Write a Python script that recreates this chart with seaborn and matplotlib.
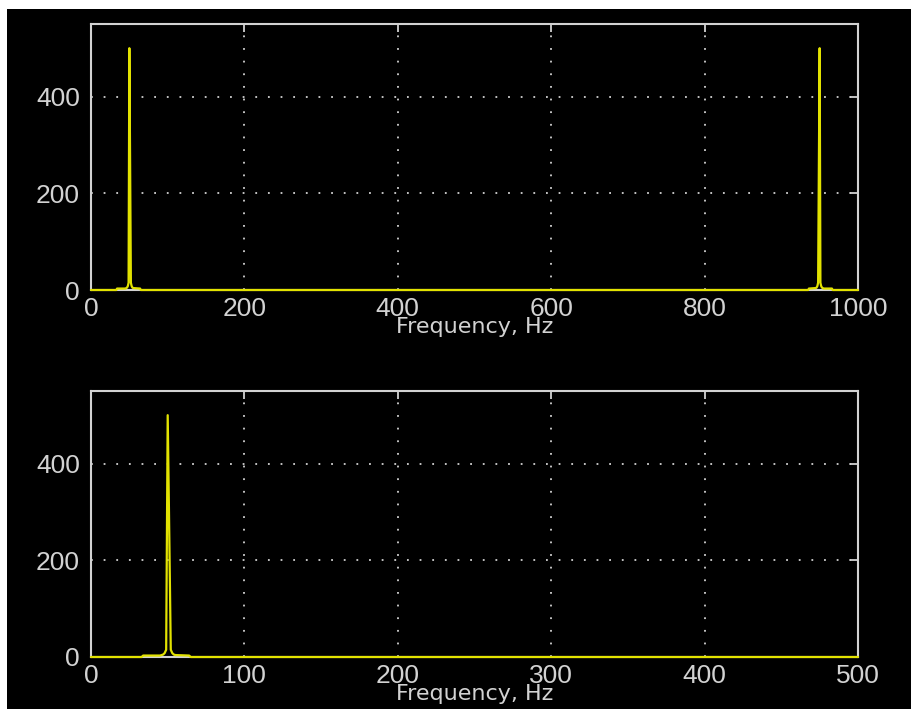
import matplotlib
matplotlib.use("Agg")
import matplotlib.pyplot as plt
from matplotlib.patches import Rectangle
import seaborn as sns
import pandas as pd

# Two-sided magnitude spectrum (0..1000 Hz)
freq_full = [0, 33, 34, 45, 46, 47, 48, 49, 50, 51, 52, 53, 54, 55, 64, 65,
             935, 936, 945, 946, 947, 948, 949, 950, 951, 952, 953, 954, 955, 966, 967, 1000]
mag_full = [0, 0, 3, 3, 4, 5, 8, 15, 500, 260, 15, 8, 5, 4, 3, 0,
            0, 3, 4, 5, 8, 15, 260, 500, 15, 8, 5, 4, 3, 3, 0, 0]

# One-sided magnitude spectrum (0..500 Hz)
freq_half = [0, 33, 34, 45, 46, 47, 48, 49, 50, 51, 52, 53, 54, 55, 64, 65, 500]
mag_half = [0, 0, 3, 3, 4, 5, 8, 15, 500, 260, 15, 8, 5, 4, 3, 0, 0]

xticks_top = [0, 200, 400, 600, 800, 1000]
xticks_bottom = [0, 100, 200, 300, 400, 500]
yticks = [0, 200, 400]
xlabel = "Frequency, Hz"

line_color = "#e2e200"
fg = "#d2d2d2"

sns.set_style("dark")
fig = plt.figure(figsize=(9.11, 7.09), dpi=100)
fig.patch.set_facecolor("white")
fig.patches.append(Rectangle((7 / 911, 0), 1, 700 / 709, transform=fig.transFigure,
                             facecolor="black", edgecolor="none", zorder=-10))

W, H = 911, 709
def axes_rect(left, top, right, bottom):
    return [left / W, 1 - bottom / H, (right - left) / W, (bottom - top) / H]

ax1 = fig.add_axes(axes_rect(91, 24, 858, 290))
ax2 = fig.add_axes(axes_rect(91, 391, 858, 657))

df_full = pd.DataFrame({"f": freq_full, "m": mag_full})
df_half = pd.DataFrame({"f": freq_half, "m": mag_half})

for ax, df, xmax, xt in [(ax1, df_full, 1000, xticks_top), (ax2, df_half, 500, xticks_bottom)]:
    ax.set_facecolor("black")
    sns.lineplot(data=df, x="f", y="m", ax=ax, color=line_color, linewidth=1.6,
                 estimator=None, sort=False, zorder=4, clip_on=False)
    ax.set_xlim(0, xmax)
    ax.set_ylim(0, 550)
    ax.set_xticks(xt)
    ax.set_xticklabels([str(v) for v in xt])
    ax.set_yticks(yticks)
    ax.set_yticklabels([str(v) for v in yticks])
    ax.grid(True, color=fg, linestyle=(0, (1, 6)), linewidth=1.3)
    for s in ax.spines.values():
        s.set_visible(True)
        s.set_color(fg)
        s.set_linewidth(1.5)
    ax.tick_params(direction="in", length=6, width=1.3, color=fg, labelcolor=fg,
                   top=True, right=True, pad=5)
    for lab in ax.get_xticklabels() + ax.get_yticklabels():
        lab.set_fontfamily("Liberation Sans")
        lab.set_fontsize(19)
    ax.tick_params(axis="y", pad=8)
    ax.set_xlabel(xlabel, color=fg, fontsize=16, fontfamily="DejaVu Sans")
    ax.set_ylabel("")
    ax.xaxis.set_label_coords(0.5, -0.100)

fig.savefig("out.png", dpi=100, facecolor=fig.get_facecolor())
